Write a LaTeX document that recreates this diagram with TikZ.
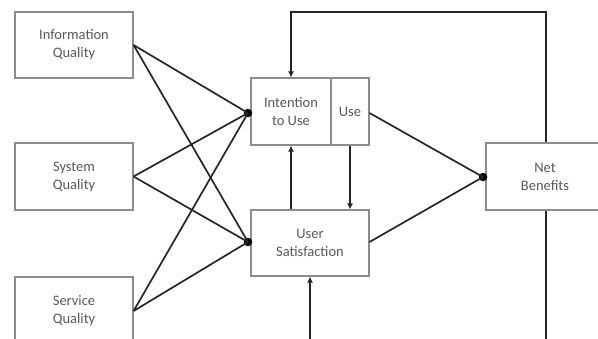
\documentclass[tikz,border=0pt]{standalone}
\usepackage{fontspec}
\setmainfont{Carlito}
\usetikzlibrary{arrows.meta,calc}
\begin{document}
\begin{tikzpicture}[x=1pt,y=-1pt,
  box/.style={draw=black!45,line width=1.1pt,fill=white,inner sep=0pt,
    align=center,text=black!65,font=\fontsize{14.5}{18}\selectfont},
  link/.style={draw=black!85,line width=1.7pt},
  tip/.style={-{Latex[length=6pt,width=6pt]}},
  joint/.style={circle,fill=black,inner sep=0pt,minimum size=8.5pt}]
\useasboundingbox (0,0) rectangle (598,338);
\fill[white] (0,0) rectangle (598,338);

% quality dimensions
\node[box,minimum width=118pt,minimum height=66pt] (iq) at (74,45) {Information\\Quality};
\node[box,minimum width=118pt,minimum height=67pt] (sq) at (74,176.5) {System\\Quality};
\node[box,minimum width=118pt,minimum height=68pt] (vq) at (74,311) {Service\\Quality};

% use and satisfaction
\node[box,minimum width=80pt,minimum height=67pt] (int) at (291,111.5) {Intention\\to Use};
\node[box,minimum width=38pt,minimum height=67pt] (use) at (350,111.5) {Use};
\node[box,minimum width=118pt,minimum height=66pt] (us) at (310,243) {User\\Satisfaction};

% net benefits
\node[box,minimum width=118pt,minimum height=67pt] (nb) at (545,176.5) {Net\\Benefits};

% junction points
\node[joint] (ji) at (248,113) {};
\node[joint] (ju) at (248,242) {};
\node[joint] (jn) at (483,177) {};

% quality links
\foreach \s in {iq,sq,vq}{
  \draw[link] (\s.east) -- (ji.center);
  \draw[link] (\s.east) -- (ju.center);
}

% links into net benefits
\draw[link] (use.east |- ji) -- (jn.center);
\draw[link] (us.east |- ju) -- (jn.center);

% vertical links between use and satisfaction
\draw[link,tip] (int.south |- us.north) -- (int.south);
\draw[link,tip] (use.south) -- (use.south |- us.north);

% feedback from net benefits
\coordinate (top) at (546,12);
\draw[link,tip] (nb.north -| top) -- (top) -| (int.north);
\coordinate (nbdown) at (546,345);
\draw[link] (nb.south -| top) -- (nbdown);
\coordinate (usup) at (310,345);
\draw[link,tip] (usup) -- (us.south);
\end{tikzpicture}
\end{document}
